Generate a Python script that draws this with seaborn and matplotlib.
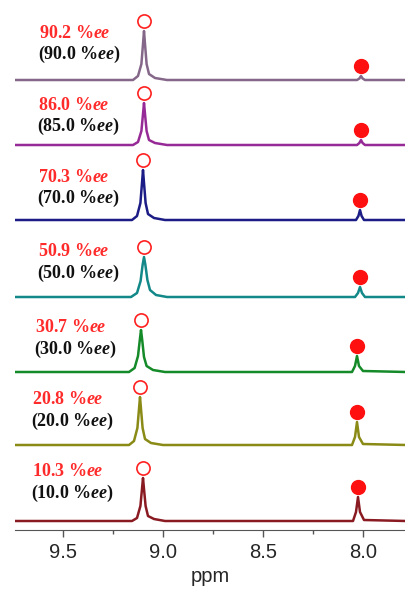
"""
Stacked 1H NMR traces (9.7 - 7.8 ppm) for samples of known ee,
measured ee written next to each trace.
"""

# %% ---- requirements and constants ------------------------
import matplotlib
matplotlib.use("Agg")
import matplotlib.pyplot as plt
import seaborn as sns
import pandas as pd

measured_ee = ["90.2", "86.0", "70.3", "50.9", "30.7", "20.8", "10.3"]
nominal_ee = ["90.0", "85.0", "70.0", "50.0", "30.0", "20.0", "10.0"]
trace_colors = ["#85678a", "#962a96", "#1c1c86", "#138888", "#148a28", "#8a8a16", "#8a1a22"]

# peak positions (ppm) and heights (arbitrary units)
major_ppm = [9.095, 9.095, 9.100, 9.095, 9.110, 9.115, 9.100]
major_height = [49, 42, 50, 40, 42, 48, 43]
minor_ppm = [8.010, 8.010, 8.015, 8.015, 8.030, 8.030, 8.025]
minor_height = [4, 5, 10, 10, 16, 23, 24]

# sampled points of each trace, (ppm, intensity), top to bottom
trace_ppm = [
    [9.74, 9.15, 9.125, 9.108, 9.100, 9.095, 9.090, 9.082, 9.07, 9.04, 8.98, 8.03, 8.018, 8.010, 8.002, 7.99, 7.785],
    [9.74, 9.15, 9.125, 9.108, 9.100, 9.095, 9.090, 9.082, 9.07, 9.04, 8.98, 8.03, 8.018, 8.010, 8.002, 7.99, 7.785],
    [9.74, 9.155, 9.130, 9.113, 9.105, 9.100, 9.095, 9.087, 9.075, 9.045, 8.99, 8.035, 8.023, 8.015, 8.007, 7.995, 7.785],
    [9.74, 9.16, 9.130, 9.112, 9.102, 9.095, 9.088, 9.078, 9.065, 9.035, 8.98, 8.04, 8.025, 8.015, 8.005, 7.99, 7.785],
    [9.74, 9.17, 9.142, 9.125, 9.116, 9.110, 9.104, 9.095, 9.082, 9.05, 8.99, 8.055, 8.040, 8.030, 8.020, 8.00, 7.785],
    [9.74, 9.17, 9.145, 9.128, 9.120, 9.115, 9.110, 9.102, 9.090, 9.06, 9.00, 8.055, 8.040, 8.030, 8.020, 8.00, 7.785],
    [9.74, 9.155, 9.130, 9.113, 9.105, 9.100, 9.095, 9.087, 9.075, 9.045, 8.99, 8.050, 8.035, 8.025, 8.015, 7.995, 7.785],
]
trace_int = [
    [0, 0, 4, 16, 36, 49, 36, 16, 6, 2, 0, 0, 1.5, 4, 1.5, 0, 0],
    [0, 0, 3, 14, 31, 42, 31, 14, 5, 2, 0, 0, 2, 5, 2, 0, 0],
    [0, 0, 4, 17, 37, 50, 37, 17, 6, 2, 0, 0, 4, 10, 4, 0, 0],
    [0, 0, 4, 16, 32, 40, 32, 17, 7, 2, 0, 0, 4, 10, 4, 0, 0],
    [0, 0, 4, 16, 32, 42, 32, 15, 6, 2, 0, 0, 6, 16, 6, 1, 0],
    [0, 0, 4, 17, 36, 48, 36, 17, 6, 2, 0, 0, 8, 23, 8, 1, 0],
    [0, 0, 3, 15, 32, 43, 32, 15, 5, 2, 0, 0, 9, 24, 9, 1, 0],
]

# layout only: baseline offsets and label rows (pixels from top)
baseline_offset = [450, 385, 310, 233, 158, 85, 9]
label_row = [33, 105, 177, 252, 328, 400, 472]
label_left = [39, 38, 38, 38, 35, 32, 32]
marker_gap = 10.5


# %% ---- figure ------------------------
sns.set_style("ticks")
plt.rcParams["font.family"] = ["Liberation Sans", "DejaVu Sans"]
plt.rcParams["mathtext.fontset"] = "custom"
plt.rcParams["mathtext.rm"] = "Liberation Serif:bold"
plt.rcParams["mathtext.it"] = "Liberation Serif:italic:bold"
plt.rcParams["mathtext.bf"] = "Liberation Serif:bold"

W, H = 406, 589
fig = plt.figure(figsize=(W / 100, H / 100), dpi=100)
ax = fig.add_axes([15 / W, 59 / H, 391 / W, 530 / H])

for i in range(len(measured_ee)):
    df = pd.DataFrame({"ppm": trace_ppm[i],
                       "y": [v + baseline_offset[i] for v in trace_int[i]]})
    sns.lineplot(data=df, x="ppm", y="y", color=trace_colors[i], lw=1.8,
                 sort=False, ax=ax, legend=False)
    ax.plot(major_ppm[i], baseline_offset[i] + major_height[i] + marker_gap,
            "o", ms=9.5, mfc="white", mec="#ff2020", mew=1.2)
    ax.plot(minor_ppm[i], baseline_offset[i] + minor_height[i] + marker_gap,
            "o", ms=10, mfc="#ff1010", mec="#ff1010")

    y_red = 1 - label_row[i] / H
    x_txt = label_left[i] / W
    fig.text(x_txt, y_red, measured_ee[i] + r" %$\mathit{ee}$", color="#ff2a2a",
             fontsize=13, family="Liberation Serif", fontweight="bold", va="center")
    fig.text(x_txt - 1 / W, y_red - 21 / H, "(" + nominal_ee[i] + r" %$\mathit{ee}$)",
             color="#111111", fontsize=13, family="Liberation Serif",
             fontweight="bold", va="center")

ax.set_xlim(9.74, 7.785)
ax.set_ylim(0, 530)
ax.set_xticks([9.5, 9.0, 8.5, 8.0])
ax.set_xticks([9.25, 8.75, 8.25], minor=True)
ax.tick_params(axis="x", which="major", length=5, width=1, labelsize=14.5, pad=4,
               color="#555555")
ax.tick_params(axis="x", which="minor", length=3, width=1, color="#555555")
ax.set_yticks([])
ax.set_ylabel("")
ax.set_xlabel("ppm", fontsize=14.5, labelpad=4)
sns.despine(ax=ax, left=True)
ax.spines["bottom"].set_color("#555555")

fig.savefig("out.png", dpi=100)
